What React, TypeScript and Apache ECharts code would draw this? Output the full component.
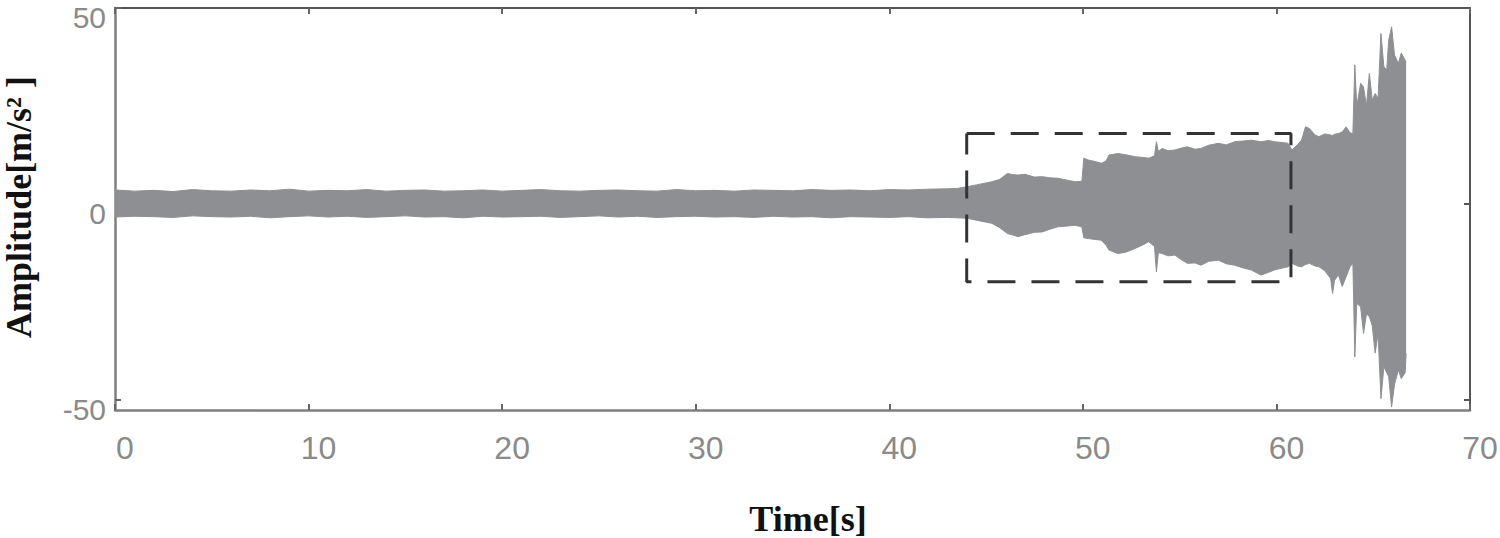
import React, { useEffect, useRef } from "react";
import * as echarts from "echarts";

// Envelope of the vibration signal (time in s, upper / lower amplitude in m/s²)
const sigT = [
  0, 1, 2, 3, 4, 5, 6, 7, 8, 9, 10, 11, 12, 13, 14, 15, 16, 17, 18, 19, 20,
  21, 22, 23, 24, 25, 26, 27, 28, 29, 30, 31, 32, 33, 34, 35, 36, 37, 38, 39,
  40, 41, 42, 43, 43.5, 44.0, 44.5, 45.0, 45.3, 45.7, 46.1, 46.4, 46.65, 47.0,
  47.5, 47.9, 48.3, 48.7, 49.2, 49.6, 49.95, 50.05, 50.3, 50.6, 50.95, 51.2,
  51.35, 51.8, 52.2, 52.7, 53.1, 53.4, 53.7, 53.8, 53.9, 54.1, 54.4, 54.75,
  55.1, 55.4, 55.8, 56.1, 56.5, 57.0, 57.4, 57.85, 58.3, 58.7, 59.2, 59.6,
  59.9, 60.3, 60.6, 60.8, 61.1, 61.3, 61.5, 61.7, 62.0, 62.2, 62.5, 62.8,
  62.9, 63.0, 63.2, 63.4, 63.6, 63.8, 63.95, 64.05, 64.15, 64.35, 64.5, 64.65,
  64.8, 64.95, 65.1, 65.25, 65.4, 65.55, 65.7, 65.8, 65.95, 66.1, 66.3, 66.45,
  66.65, 66.7,
];
const sigHi = [
  3.6, 3.3, 3.5, 3.2, 3.7, 3.4, 3.3, 3.6, 3.4, 3.8, 3.3, 3.5, 3.4, 3.7, 3.3,
  3.5, 3.6, 3.3, 3.4, 3.6, 3.3, 3.5, 3.7, 3.4, 3.3, 3.5, 3.6, 3.4, 3.3, 3.7,
  3.4, 3.5, 3.3, 3.6, 3.5, 3.4, 3.7, 3.5, 3.6, 3.4, 3.7, 3.6, 3.8, 3.9, 4.0,
  4.4, 4.9, 5.4, 5.7, 6.3, 7.8, 7.5, 7.4, 7.6, 6.9, 7.0, 6.7, 6.6, 6.1, 5.7,
  5.8, 11.7, 11.2, 10.9, 10.4, 11.0, 12.5, 12.9, 12.6, 12.1, 11.9, 11.7, 12.3,
  15.9, 13.4, 14.2, 13.6, 13.8, 14.3, 14.6, 14.0, 14.2, 15.0, 15.5, 15.1, 15.9,
  16.1, 16.3, 15.9, 16.2, 15.9, 15.7, 15.5, 13.8, 15.2, 16.3, 19.7, 19.3, 17.6,
  17.2, 17.9, 17.6, 17.5, 17.8, 18.0, 18.4, 19.7, 18.2, 18.0, 35.5, 24.8, 30.8,
  29.9, 25.0, 33.3, 26.5, 28.2, 27.0, 43.5, 35.0, 34.2, 41.8, 45.2, 38.0, 35.9,
  38.5, 36.7, 36.3,
];
const sigLo = [
  -3.3, -3.1, -3.2, -3.4, -3.0, -3.2, -3.3, -3.1, -3.5, -3.2, -3.0, -3.3, -3.1,
  -3.4, -3.2, -3.0, -3.3, -3.2, -3.5, -3.1, -3.3, -3.2, -3.1, -3.4, -3.2, -3.0,
  -3.3, -3.1, -3.4, -3.2, -3.1, -3.3, -3.2, -3.4, -3.1, -3.3, -3.2, -3.5, -3.2,
  -3.3, -3.4, -3.2, -3.5, -3.4, -3.5, -3.6, -4.1, -4.6, -4.9, -6.0, -7.5, -7.9,
  -8.3, -7.8, -7.2, -7.1, -6.4, -5.8, -5.6, -5.4, -5.8, -8.6, -8.8, -9.0, -9.2,
  -10.5, -11.7, -12.6, -12.3, -11.3, -10.4, -9.6, -10.8, -17.3, -12.4, -12.6,
  -13.2, -13.0, -14.2, -15.1, -15.0, -15.6, -14.6, -14.3, -15.2, -15.6, -16.3,
  -16.8, -18.1, -17.4, -16.8, -16.3, -16.0, -15.1, -15.8, -16.0, -15.4, -15.1,
  -15.8, -16.0, -17.0, -19.0, -22.8, -19.5, -18.0, -21.0, -18.5, -16.0, -15.1,
  -39.0, -25.3, -26.2, -33.0, -28.0, -28.7, -31.0, -38.0, -33.0, -49.6, -41.5,
  -43.0, -44.0, -51.7, -46.0, -42.3, -44.5, -43.0, -38.1,
];

// Dashed highlight box (time range, amplitude range)
const boxT = [44, 60.75];
const boxV = [-19.8, 18];

// Axis ranges and ticks
const xMin = 0;
const xMax = 70;
const xInterval = 10;
const yMin = -52.5;
const yMax = 50;
const yTicks = [-50, 0, 50];

const SIGNAL = "#8e8f93";

export default function App() {
  const ref = useRef<HTMLDivElement>(null);

  useEffect(() => {
    if (!ref.current) return;
    const chart = echarts.init(ref.current, null, { renderer: "svg" });

    const upper = sigT.map((t, i) => [t, sigHi[i]]);
    const lower = sigT.map((t, i) => [t, sigLo[i]]);
    const box = [
      [boxT[0], boxV[1]],
      [boxT[1], boxV[1]],
      [boxT[1], boxV[0]],
      [boxT[0], boxV[0]],
      [boxT[0], boxV[1]],
    ];

    const labelStyle = {
      color: "#8a8a8a",
      fontFamily: "Liberation Sans",
    };

    chart.setOption({
      animation: false,
      backgroundColor: "#ffffff",
      grid: {
        left: 115,
        right: 30,
        top: 8,
        bottom: 128,
        containLabel: false,
        outerBoundsMode: "none",
      },
      xAxis: [
        {
          type: "value",
          position: "bottom",
          min: xMin,
          max: xMax,
          interval: xInterval,
          axisLine: { show: true, onZero: false, lineStyle: { color: "#7f7f7f", width: 2.5 } },
          axisTick: { show: true, inside: true, length: 6, lineStyle: { color: "#666", width: 2 } },
          axisLabel: { ...labelStyle, fontSize: 32, lineHeight: 32, margin: 22, padding: [0, 0, 0, 20] },
          splitLine: { show: false },
        },
        {
          type: "value",
          position: "top",
          min: xMin,
          max: xMax,
          interval: xInterval,
          axisLine: { show: true, onZero: false, lineStyle: { color: "#555", width: 2 } },
          axisTick: { show: true, inside: true, length: 6, lineStyle: { color: "#666", width: 2 } },
          axisLabel: { show: false },
          splitLine: { show: false },
        },
      ],
      yAxis: [
        {
          type: "value",
          position: "left",
          min: yMin,
          max: yMax,
          axisLine: { show: true, onZero: false, lineStyle: { color: "#7f7f7f", width: 2.5 } },
          axisTick: {
            show: true,
            inside: true,
            length: 6,
            customValues: yTicks,
            lineStyle: { color: "#666", width: 2 },
          },
          axisLabel: {
            ...labelStyle,
            fontSize: 30,
            lineHeight: 18,
            verticalAlign: "top",
            margin: 9,
            customValues: yTicks,
          },
          splitLine: { show: false },
        },
        {
          type: "value",
          position: "right",
          min: yMin,
          max: yMax,
          axisLine: { show: true, onZero: false, lineStyle: { color: "#555", width: 2 } },
          axisTick: {
            show: true,
            inside: true,
            length: 6,
            customValues: yTicks,
            lineStyle: { color: "#555", width: 2 },
          },
          axisLabel: { show: false },
          splitLine: { show: false },
        },
      ],
      series: [
        {
          type: "line",
          data: upper,
          symbol: "none",
          silent: true,
          lineStyle: { color: SIGNAL, width: 1 },
          areaStyle: { color: SIGNAL, opacity: 1, origin: 0 },
          z: 2,
        },
        {
          type: "line",
          data: lower,
          symbol: "none",
          silent: true,
          lineStyle: { color: SIGNAL, width: 1 },
          areaStyle: { color: SIGNAL, opacity: 1, origin: 0 },
          z: 2,
        },
        {
          type: "line",
          data: box,
          symbol: "none",
          silent: true,
          lineStyle: { color: "#333", width: 3, type: [28, 16] },
          z: 5,
        },
      ],
      graphic: [
        {
          type: "text",
          x: 808,
          y: 519,
          style: {
            text: "Time[s]",
            fontFamily: "Liberation Serif",
            fontWeight: "bold",
            fontSize: 36,
            lineHeight: 34,
            fill: "#111",
            align: "center",
            verticalAlign: "middle",
          },
        },
        {
          type: "text",
          x: 19,
          y: 207,
          rotation: Math.PI / 2,
          style: {
            text: "Amplitude[m/s² ]",
            fontFamily: "Liberation Serif",
            fontWeight: "bold",
            fontSize: 36,
            lineHeight: 34,
            fill: "#111",
            align: "center",
            verticalAlign: "middle",
          },
        },
      ],
    });

    return () => chart.dispose();
  }, []);

  return (
    <div
      ref={ref}
      style={{ position: "fixed", left: 0, top: 0, width: 1500, height: 538 }}
    />
  );
}
